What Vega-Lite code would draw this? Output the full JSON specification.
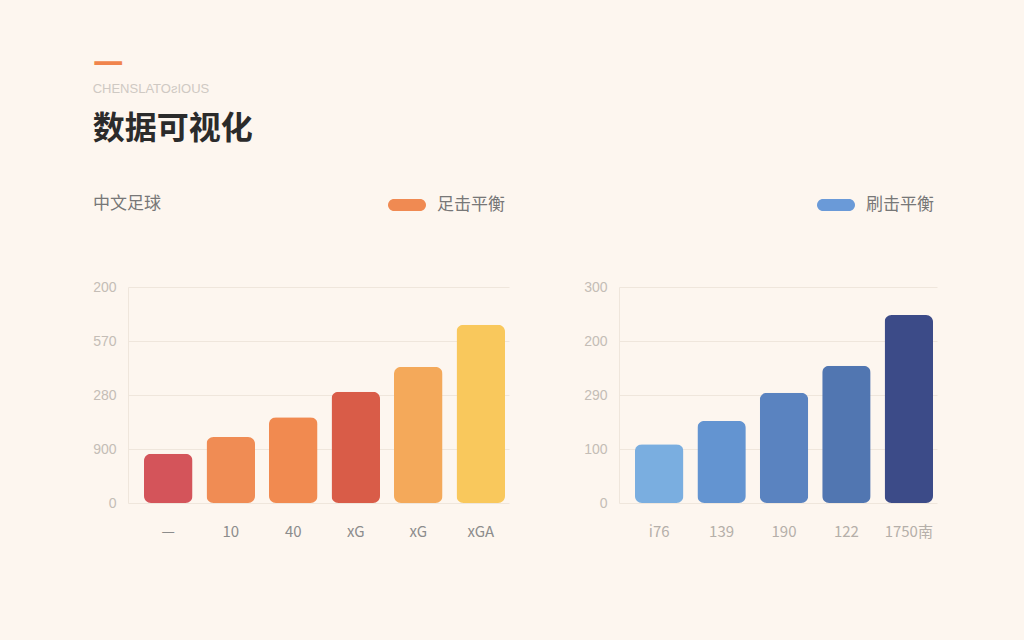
{
  "$schema": "https://vega.github.io/schema/vega-lite/v6.json",
  "background": "#fdf6ef",
  "padding": {"left": 92, "top": 46, "right": 89, "bottom": 105},
  "title": {
    "text": "—",
    "color": "#f0844c",
    "font": "DejaVu Sans",
    "fontSize": 31,
    "fontWeight": "bold",
    "anchor": "start",
    "frame": "bounds",
    "subtitle": "CHENSLATOƨIOUS",
    "subtitleFont": "Liberation Sans",
    "subtitleFontSize": 13,
    "subtitleColor": "#cfc9c3",
    "subtitlePadding": 5,
    "offset": 16
  },
  "config": {
    "view": {"stroke": null},
    "font": "Noto Sans CJK SC",
    "axis": {
      "gridColor": "#efe6dc",
      "domainColor": "#efe6dc",
      "ticks": false
    },
    "title": {
      "font": "Noto Sans CJK SC",
      "fontSize": 32,
      "fontWeight": "bold",
      "color": "#2b2b2b",
      "anchor": "start",
      "frame": "bounds",
      "offset": 40
    },
    "legend": {
      "labelFont": "Noto Sans CJK SC",
      "labelFontSize": 17,
      "labelColor": "#777777",
      "labelOffset": 11,
      "symbolSize": 1444,
      "symbolType": "M-0.684,-0.316 L0.684,-0.316 A0.316,0.316 0 0 1 0.684,0.316 L-0.684,0.316 A0.316,0.316 0 0 1 -0.684,-0.316 Z",
      "symbolStrokeWidth": 0
    }
  },
  "spacing": 74,
  "resolve": {"scale": {"color": "independent"}, "legend": {"color": "independent"}},
  "hconcat": [
    {
      "title": "数据可视化",
      "width": 381,
      "height": 216,
      "data": {
        "values": [
          {"label": "—", "value": 91, "hex": "#d4545a", "series": "足击平衡"},
          {"label": "10", "value": 122, "hex": "#f08c54", "series": "足击平衡"},
          {"label": "40", "value": 159, "hex": "#f18a50", "series": "足击平衡"},
          {"label": "xG", "value": 206, "hex": "#d95c48", "series": "足击平衡"},
          {"label": "xG\u200b", "value": 252, "hex": "#f4a95a", "series": "足击平衡"},
          {"label": "xGA", "value": 330, "hex": "#f9c85c", "series": "足击平衡"}
        ]
      },
      "encoding": {
        "x": {
          "field": "label",
          "type": "nominal",
          "sort": null,
          "scale": {"paddingInner": 0.224, "paddingOuter": 0.16, "align": 0.8},
          "axis": {
            "title": null,
            "labelAngle": 0,
            "domain": false,
            "labelPadding": 21,
            "labelFontSize": 15,
            "labelColor": "#8c8c8c",
            "labelFont": "Noto Sans CJK SC"
          }
        },
        "y": {
          "field": "value",
          "type": "quantitative",
          "scale": {"domain": [0, 400], "nice": false},
          "axis": {
            "title": null,
            "values": [0, 100, 200, 300, 400],
            "labelExpr": "['0','900','280','570','200'][datum.value / 100]",
            "labelFontSize": 14,
            "labelColor": "#c4bdb6",
            "labelPadding": 12,
            "labelFont": "Liberation Sans"
          }
        }
      },
      "layer": [
        {
          "mark": {"type": "bar", "cornerRadius": 7},
          "encoding": {"fill": {"field": "hex", "type": "nominal", "scale": null}}
        },
        {
          "transform": [{"filter": "false"}],
          "mark": {"type": "bar"},
          "encoding": {
            "color": {
              "field": "series",
              "type": "nominal",
              "scale": {"domain": ["足击平衡"], "range": ["#f08a52"]},
              "legend": {
                "orient": "none",
                "legendX": -35,
                "legendY": -101,
                "title": "中文足球",
                "titleOrient": "left",
                "titleAnchor": "end",
                "titleBaseline": "bottom",
                "titlePadding": 227,
                "titleFont": "Noto Sans CJK SC",
                "titleFontSize": 17,
                "titleFontWeight": "normal",
                "titleColor": "#777777"
              }
            }
          }
        }
      ]
    },
    {
      "title": " ",
      "width": 318,
      "height": 216,
      "data": {
        "values": [
          {"label": "i76", "value": 109, "hex": "#7aaee0", "series": "刷击平衡"},
          {"label": "139", "value": 152, "hex": "#6394d1", "series": "刷击平衡"},
          {"label": "190", "value": 204, "hex": "#5a83c0", "series": "刷击平衡"},
          {"label": "122", "value": 254, "hex": "#5176b1", "series": "刷击平衡"},
          {"label": "1750南", "value": 348, "hex": "#3c4b88", "series": "刷击平衡"}
        ]
      },
      "encoding": {
        "x": {
          "field": "label",
          "type": "nominal",
          "sort": null,
          "scale": {"paddingInner": 0.224, "paddingOuter": 0.16, "align": 0.8},
          "axis": {
            "title": null,
            "labelAngle": 0,
            "domain": false,
            "labelPadding": 21,
            "labelFontSize": 15,
            "labelColor": "#b5afa9",
            "labelFont": "Noto Sans CJK SC"
          }
        },
        "y": {
          "field": "value",
          "type": "quantitative",
          "scale": {"domain": [0, 400], "nice": false},
          "axis": {
            "title": null,
            "values": [0, 100, 200, 300, 400],
            "labelExpr": "['0','100','290','200','300'][datum.value / 100]",
            "labelFontSize": 14,
            "labelColor": "#c4bdb6",
            "labelPadding": 12,
            "labelFont": "Liberation Sans"
          }
        }
      },
      "layer": [
        {
          "mark": {"type": "bar", "cornerRadius": 7},
          "encoding": {"fill": {"field": "hex", "type": "nominal", "scale": null}}
        },
        {
          "transform": [{"filter": "false"}],
          "mark": {"type": "bar"},
          "encoding": {
            "color": {
              "field": "series",
              "type": "nominal",
              "scale": {"domain": ["刷击平衡"], "range": ["#6a9ad8"]},
              "legend": {
                "orient": "none",
                "legendX": 198,
                "legendY": -101,
                "title": null
              }
            }
          }
        }
      ]
    }
  ]
}
